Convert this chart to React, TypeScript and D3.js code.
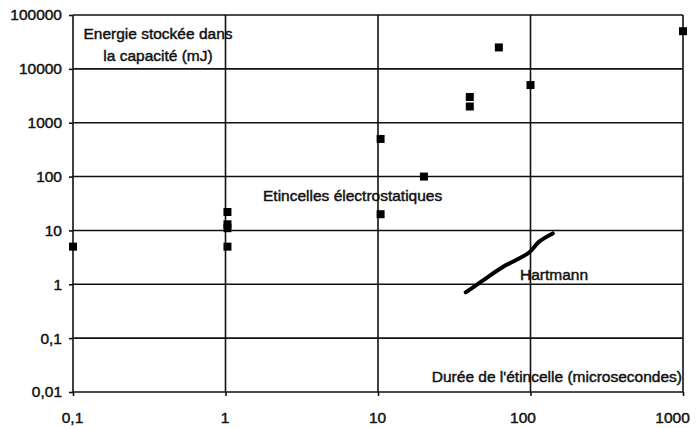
import React, { useEffect, useRef } from "react";
import * as d3 from "d3";

// spark duration (microseconds) and stored energy (mJ)
const durations = [0.1, 1.03, 1.03, 1.03, 1.03, 10.4, 10.4, 20, 40, 40, 62, 100, 1000];
const energies = [5, 22, 13, 11, 5, 500, 20, 100, 3000, 2000, 25000, 5000, 50000];

// Hartmann curve
const hartmannX = [37.6, 48, 65, 98, 114, 140];
const hartmannY = [0.71, 1.14, 2.05, 3.9, 6.2, 8.8];

const xTicks = [0.1, 1, 10, 100, 1000];
const yTicks = [0.01, 0.1, 1, 10, 100, 1000, 10000, 100000];

const W = 696;
const H = 428;
const FONT = "'Liberation Sans', Arial, sans-serif";

const App = () => {
  const svgRef = useRef<SVGSVGElement>(null);

  useEffect(() => {
    const svg = d3.select(svgRef.current);
    svg.selectAll("*").remove();

    const x = d3.scaleLog().domain([0.1, 1000]).range([73, 683]);
    const y = d3.scaleLog().domain([0.01, 100000]).range([392, 15]);
    const fmt = (d: number) => String(d).replace(".", ",");

    // gridlines
    const grid = svg.append("g").attr("stroke", "#111").attr("stroke-width", 1.6);
    grid
      .selectAll("line.h")
      .data(yTicks)
      .join("line")
      .attr("x1", x(0.1))
      .attr("x2", x(1000))
      .attr("y1", (d) => y(d))
      .attr("y2", (d) => y(d));
    grid
      .selectAll("line.v")
      .data(xTicks)
      .join("line")
      .attr("x1", (d) => x(d))
      .attr("x2", (d) => x(d))
      .attr("y1", y(0.01))
      .attr("y2", y(100000));

    //axes
    const yAxis = d3.axisLeft(y).tickValues(yTicks).tickFormat((d) => fmt(+d)).tickSize(4).tickPadding(7);
    const xAxis = d3.axisBottom(x).tickValues(xTicks).tickFormat((d) => fmt(+d)).tickSize(4).tickPadding(16);

    const ya = svg.append("g").attr("transform", `translate(${x(0.1)},0)`).call(yAxis);
    const xa = svg.append("g").attr("transform", `translate(0,${y(0.01)})`).call(xAxis);
    [ya, xa].forEach((g) => {
      g.select(".domain").remove();
      g.selectAll("line").attr("stroke", "#111").attr("stroke-width", 1.6);
      g.selectAll("text")
        .attr("fill", "#111")
        .attr("stroke", "#111")
        .attr("stroke-width", 0.45)
        .style("font-family", FONT)
        .style("font-size", "15.5px");
    });
    // scanned labels drift left towards the right end
    xa.selectAll<SVGTextElement, number>("text").attr("dx", (d) => (d >= 1000 ? -11 : d >= 100 ? -8 : -1));

    // Hartmann line
    const line = d3
      .line<number>()
      .x((d, i) => x(hartmannX[i]))
      .y((d) => y(d))
      .curve(d3.curveCatmullRom);
    svg
      .append("path")
      .datum(hartmannY)
      .attr("d", line)
      .attr("fill", "none")
      .attr("stroke", "#000")
      .attr("stroke-width", 4)
      .attr("stroke-linecap", "round");

    // markers
    svg
      .append("g")
      .selectAll("rect")
      .data(durations)
      .join("rect")
      .attr("x", (d) => x(d) - 4)
      .attr("y", (d, i) => y(energies[i]) - 4)
      .attr("width", 8)
      .attr("height", 8)
      .attr("fill", "#000");

    // labels
    const label = (txt: string, lx: number, ly: number, anchor: string) =>
      svg
        .append("text")
        .attr("x", lx)
        .attr("y", ly)
        .attr("text-anchor", anchor)
        .attr("fill", "#111")
        .attr("stroke", "#111")
        .attr("stroke-width", 0.45)
        .style("font-family", FONT)
        .style("font-size", "15.5px")
        .text(txt);

    label("Energie stockée dans", 158, 39, "middle");
    label("la capacité (mJ)", 158, 61, "middle");
    label("Etincelles électrostatiques", 263, 201, "start");
    label("Hartmann", 520, 280, "start");
    label("Durée de l'étincelle (microsecondes)", 682, 382, "end");
  }, []);

  return (
    <svg
      ref={svgRef}
      width={W}
      height={H}
      style={{ position: "absolute", left: 0, top: 0, background: "#fff" }}
    />
  );
};

export default App;
